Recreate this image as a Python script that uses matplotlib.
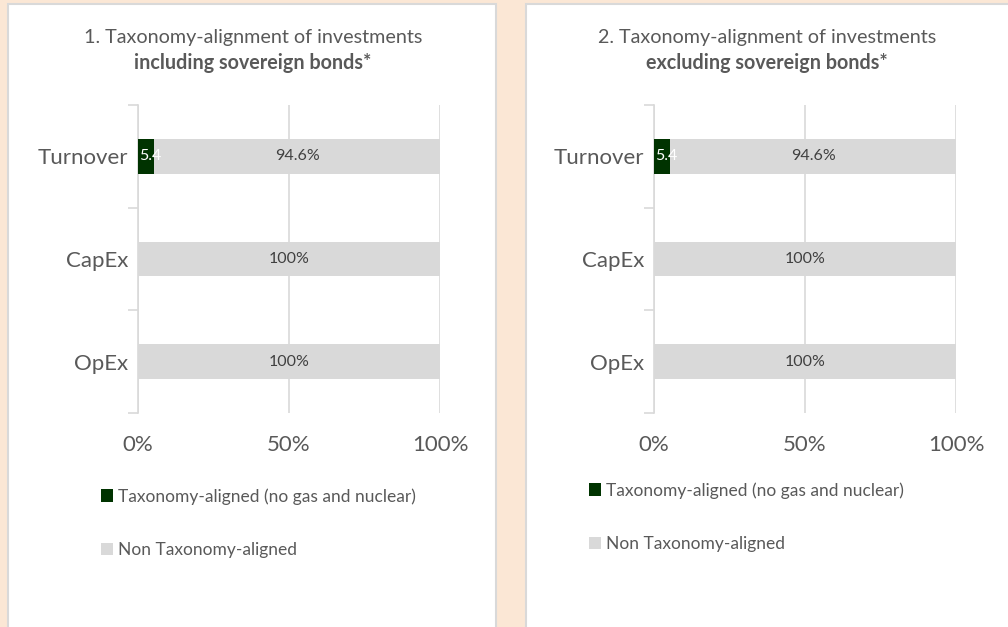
import matplotlib
matplotlib.use("Agg")
import matplotlib.pyplot as plt
from matplotlib.patches import Rectangle, Patch

plt.rcParams['font.family'] = ['Lato', 'DejaVu Sans']

# DATA
categories = ['Turnover', 'CapEx', 'OpEx']
aligned_incl = [5.4, 0, 0]
non_aligned_incl = [94.6, 100, 100]
aligned_excl = [5.4, 0, 0]
non_aligned_excl = [94.6, 100, 100]
aligned_labels = ['5.4', '', '']
non_aligned_labels = ['94.6%', '100%', '100%']
xticks = [0, 50, 100]
xtick_labels = ['0%', '50%', '100%']
titles = [('1. Taxonomy-alignment of investments', 'including sovereign bonds*'),
          ('2. Taxonomy-alignment of investments', 'excluding sovereign bonds*')]
legend_labels = ['Taxonomy-aligned (no gas and nuclear)', 'Non Taxonomy-aligned']

# SETUP
green = '#003300'
grey = '#D9D9D9'
text_col = '#595959'
peach = '#FBE7D5'

W, H = 1008, 627
fig = plt.figure(figsize=(W / 100, H / 100), dpi=100)
fig.patch.set_facecolor(peach)


def fx(px):
    return px / W


def fy(py):
    return 1 - py / H


# white panels (behind the axes)
for x0, x1 in [(8, 496), (526, 1015)]:
    fig.patches.append(Rectangle((fx(x0), -0.02), fx(x1 - x0), fy(4) + 0.02,
                                 transform=fig.transFigure, facecolor='white',
                                 edgecolor='#D9D9D9', linewidth=1.5, zorder=-5))

panels = [
    dict(ax_left=138, title_x=253, leg_x=101, leg_y=488,
         aligned=aligned_incl, non=non_aligned_incl),
    dict(ax_left=654, title_x=767, leg_x=589, leg_y=482,
         aligned=aligned_excl, non=non_aligned_excl),
]

for i, p in enumerate(panels):
    ax = fig.add_axes([fx(p['ax_left']), fy(413), fx(302), (413 - 105) / H])
    ax.set_zorder(2)
    ax.set_facecolor('none')
    ypos = list(range(len(categories)))
    ax.barh(ypos, p['aligned'], height=0.34, color=green, zorder=3)
    ax.barh(ypos, p['non'], left=p['aligned'], height=0.34, color=grey, zorder=3)

    for y, a, n, la, ln in zip(ypos, p['aligned'], p['non'], aligned_labels, non_aligned_labels):
        if la:
            ax.text(0.4, y, la, color='white', fontsize=11.5, va='center', ha='left', zorder=4)
        ax.text(a + n / 2, y, ln, color='#404040', fontsize=11.5, va='center', ha='center', zorder=4)

    ax.set_xlim(0, 100)
    ax.set_ylim(2.5, -0.5)
    ax.set_xticks(xticks)
    ax.set_xticklabels(xtick_labels, fontsize=16, color=text_col)
    ax.tick_params(axis='x', length=0, pad=16)
    ax.set_yticks([-0.5, 0.5, 1.5, 2.5])
    ax.set_yticklabels([])
    ax.set_yticks(ypos, minor=True)
    ax.set_yticklabels(categories, minor=True, fontsize=16, color=text_col)
    ax.tick_params(axis='y', which='major', length=7, color=grey, width=1.2)
    ax.tick_params(axis='y', which='minor', length=0, pad=7)
    ax.grid(axis='x', color=grey, linewidth=1.2, zorder=0)
    for side in ['top', 'right', 'bottom']:
        ax.spines[side].set_visible(False)
    ax.spines['left'].set_color(grey)
    ax.spines['left'].set_linewidth(1.2)

    fig.text(fx(p['title_x']), fy(38), titles[i][0], ha='center', va='center',
             fontsize=14.2, color=text_col)
    fig.text(fx(p['title_x']), fy(63), titles[i][1], ha='center', va='center',
             fontsize=14.2, color=text_col, fontweight='bold')

    handles = [Patch(facecolor=green), Patch(facecolor=grey)]
    ax.legend(handles, legend_labels, loc='upper left',
              bbox_to_anchor=(fx(p['leg_x']), fy(p['leg_y'])), bbox_transform=fig.transFigure,
              frameon=False, handlelength=0.7, handleheight=0.7, handletextpad=0.3,
              labelspacing=2.15, borderpad=0, borderaxespad=0, fontsize=12.5,
              labelcolor=text_col)

fig.savefig('out.png', dpi=100, facecolor=peach)
